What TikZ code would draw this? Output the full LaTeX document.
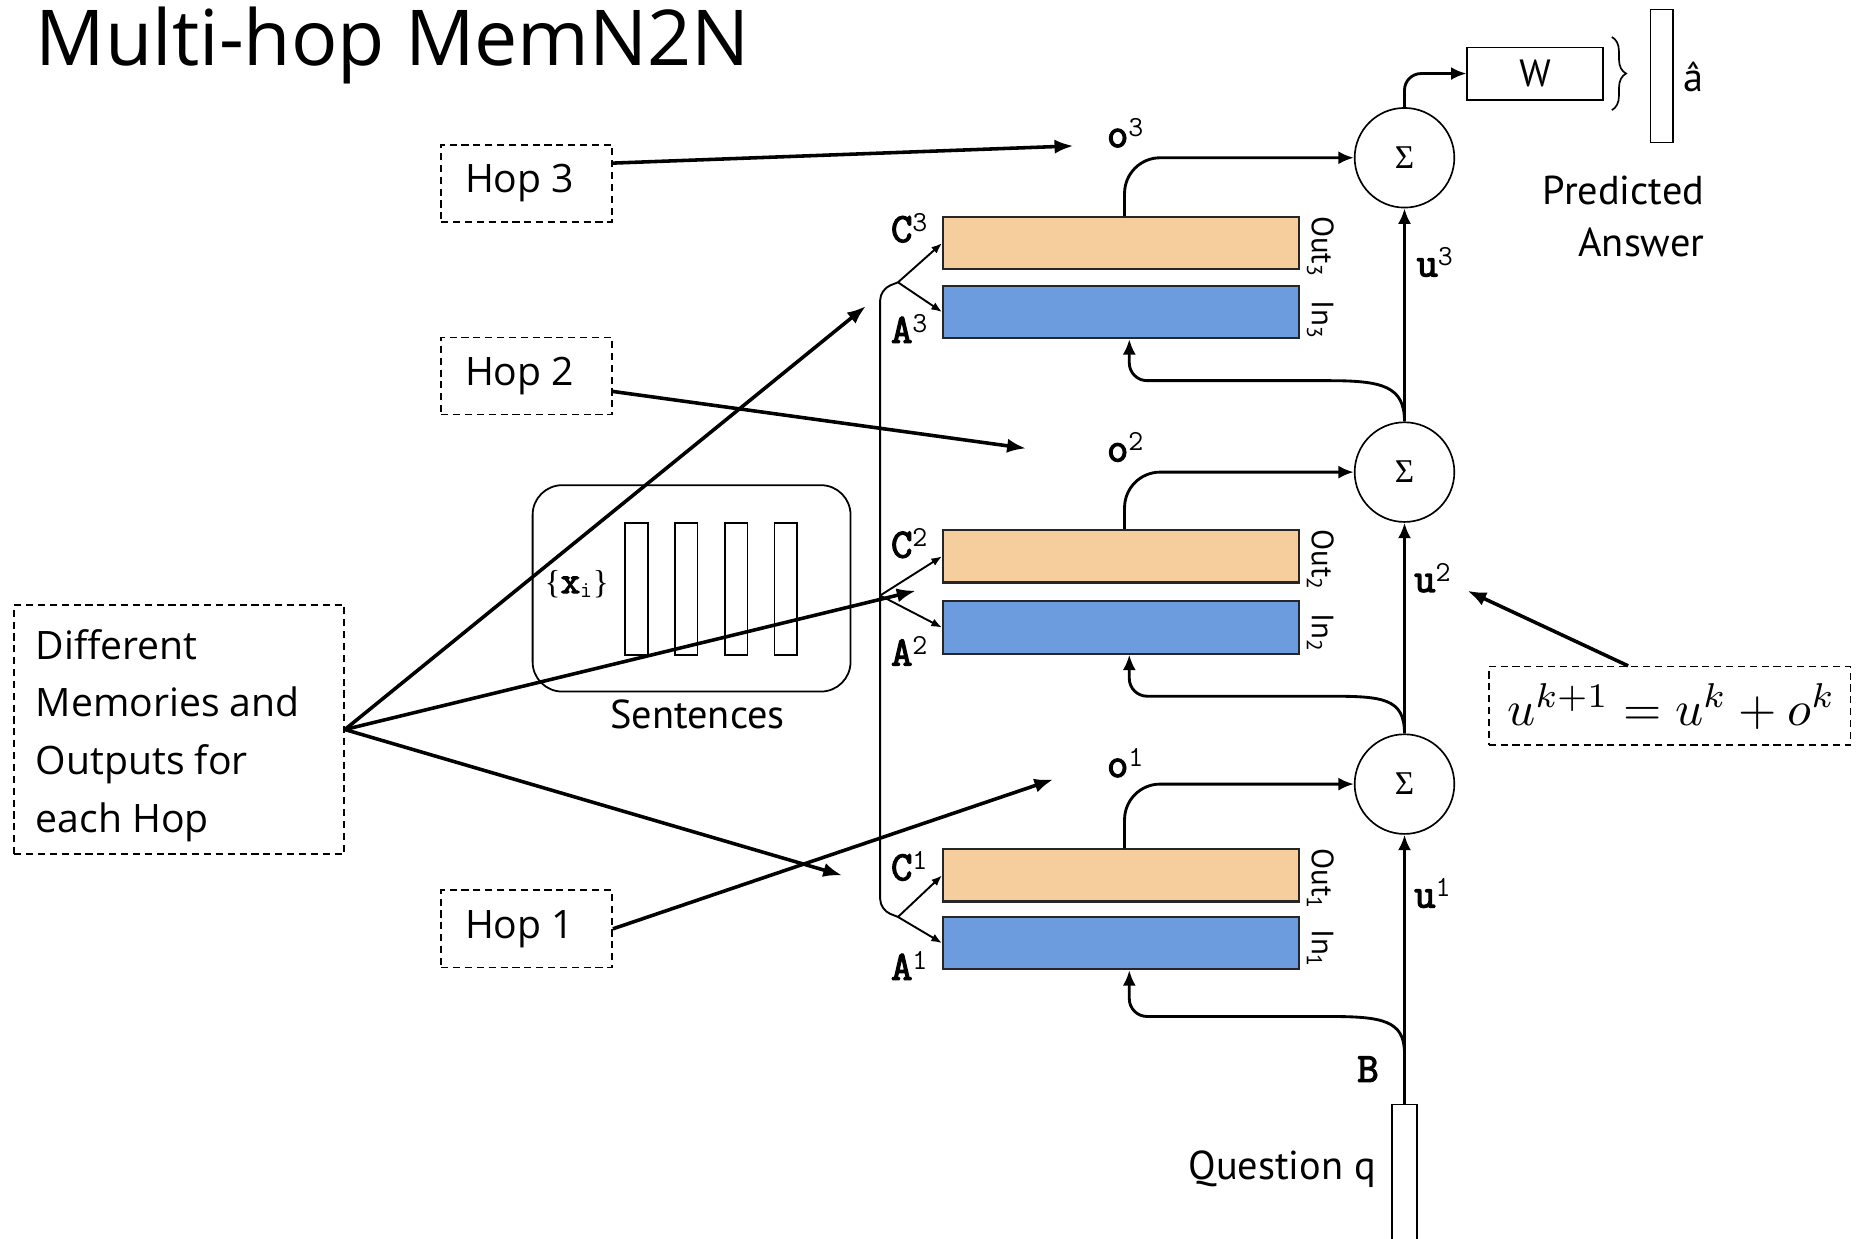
\documentclass[tikz,border=0pt]{standalone}
\usepackage[no-math]{fontspec}
\setmainfont{Open Sans}
\newfontfamily\pts{PT Sans}
\newfontfamily\labmono{Latin Modern Mono}
\newfontfamily\labmonob[FakeBold=3]{Latin Modern Mono}
\newfontfamily\lserif{Liberation Serif}
\usetikzlibrary{arrows.meta,decorations.pathreplacing,calc}
\definecolor{outc}{RGB}{246,206,158}
\definecolor{inc}{RGB}{108,155,222}
\newcommand{\sups}[1]{{\labmono\textsuperscript{#1}}}
\begin{document}
\begin{tikzpicture}[x=1pt,y=-1pt,
  memo/.style={draw=black!85, line width=1.8pt, minimum width=300pt, minimum height=44pt, inner sep=0pt},
  sig/.style={circle, draw, line width=1.4pt, minimum size=84pt, inner sep=0pt, font=\lserif\fontsize{28}{28}\selectfont},
  dbox/.style={draw, line width=1.4pt, dash pattern=on 6pt off 4pt, inner sep=0pt},
  ltxt/.style={font=\fontsize{33}{40}\selectfont, inner sep=0pt},
  lbl/.style={font=\labmonob\fontsize{35}{35}\selectfont, inner sep=0pt, anchor=base west},
  sans/.style={font=\pts\fontsize{34}{40}\selectfont, inner sep=0pt},
  small/.style={font=\pts\fontsize{26}{30}\selectfont, inner sep=0pt, rotate=-90, anchor=base west},
  netarr/.style={line width=2.4pt, -{Latex[length=13pt,width=11pt]}},
  annarr/.style={line width=3pt, -{Latex[length=16pt,width=12pt]}},
  splitarr/.style={line width=1.6pt, -{Latex[length=9pt,width=7pt]}},
  barbox/.style={draw, line width=1.4pt, minimum width=19pt, minimum height=111pt, inner sep=0pt}
]
\useasboundingbox (0,0) rectangle (1568,1044);
% title
\node[anchor=base west, inner sep=0pt, font=\fontsize{65}{65}\selectfont] (title) at (30,55) {Multi-hop MemN2N};

% memory blocks
\node[memo, fill=outc] (C3) at (945,205) {};
\node[memo, fill=inc]  (A3) at (945,263) {};
\node[memo, fill=outc] (C2) at (945,469) {};
\node[memo, fill=inc]  (A2) at (945,529) {};
\node[memo, fill=outc] (C1) at (945,738) {};
\node[memo, fill=inc]  (A1) at (945,795) {};

% sums
\node[sig] (S3) at (1184,133) {Σ};
\node[sig] (S2) at (1184,398) {Σ};
\node[sig] (S1) at (1184,661) {Σ};

% question
\node[draw, line width=1.4pt, minimum width=21pt, minimum height=116pt, inner sep=0pt] (Q) at (1184,989) {};
\coordinate (Bsplit) at (1184,888);
\node[sans, anchor=base east] (Qtxt) at (1160,994) {Question q};
\node[lbl] (Blbl) at (1144,912) {B};

% answer
\node[draw, line width=1.6pt, minimum width=114pt, minimum height=44pt, inner sep=0pt, font=\pts\fontsize{32}{32}\selectfont] (W) at (1294,62) {W};
\node[draw, line width=1.4pt, minimum width=19pt, minimum height=112pt, inner sep=0pt] (ahat) at (1401,64) {};
\draw[decorate, decoration={brace, amplitude=12pt}, line width=1.4pt] ($(W.north east)+(7,-8)$) -- ($(W.south east)+(7,8)$);
\node[sans, anchor=base west] (ahatl) at (1419,77) {â};
\node[sans, anchor=base east] (pred1) at (1437,172) {Predicted};
\node[sans, anchor=base east] (pred2) at (1437,216) {Answer};

% sentences
\node[draw, line width=1.5pt, rounded corners=25pt, minimum width=268pt, minimum height=174pt, inner sep=0pt] (Sent) at (583,496) {};
\node[barbox] (x1) at (536.5,496.5) {};
\node[barbox] (x2) at (578.5,496.5) {};
\node[barbox] (x3) at (620.5,496.5) {};
\node[barbox] (x4) at (662.5,496.5) {};
\node[font=\lserif\fontsize{28}{28}\selectfont, inner sep=0pt, anchor=base west] (xi) at (459,500) {\{{\labmonob\fontsize{32}{32}\selectfont x}\textsubscript{\labmono i}\}};
\node[sans, anchor=base] (senttxt) at (588,614) {Sentences};

% labels
\node[lbl] (lC3) at (751,204) {C\sups{3}};
\node[lbl] (lA3) at (751,289) {A\sups{3}};
\node[lbl] (lC2) at (751,470) {C\sups{2}};
\node[lbl] (lA2) at (751,561) {A\sups{2}};
\node[lbl] (lC1) at (751,742) {C\sups{1}};
\node[lbl] (lA1) at (751,826) {A\sups{1}};
\node[lbl] (lo3) at (933,124) {o\sups{3}};
\node[lbl] (lo2) at (933,389) {o\sups{2}};
\node[lbl] (lo1) at (933,655) {o\sups{1}};
\node[lbl] (lu3) at (1194,233) {u\sups{3}};
\node[lbl] (lu2) at (1192,499) {u\sups{2}};
\node[lbl] (lu1) at (1192,765) {u\sups{1}};
\node[small] (o3t) at (1106,182) {Out\textsubscript{3}};
\node[small] (i3t) at (1106,253) {In\textsubscript{3}};
\node[small] (o2t) at (1106,446) {Out\textsubscript{2}};
\node[small] (i2t) at (1106,517) {In\textsubscript{2}};
\node[small] (o1t) at (1106,715) {Out\textsubscript{1}};
\node[small] (i1t) at (1106,783) {In\textsubscript{1}};

% annotation boxes
\node[dbox, minimum width=144pt, minimum height=65pt] (Hop3) at (444,154.5) {};
\node[ltxt] at ($(Hop3)+(-6,0)$) {Hop 3};
\node[dbox, minimum width=144pt, minimum height=65pt] (Hop2) at (444,317) {};
\node[ltxt] at ($(Hop2)+(-6,0)$) {Hop 2};
\node[dbox, minimum width=144pt, minimum height=65pt] (Hop1) at (444,783) {};
\node[ltxt] at ($(Hop1)+(-6,0)$) {Hop 1};
\node[dbox, minimum width=278pt, minimum height=210pt] (Diff) at (151,615) {};
\node[ltxt, anchor=base west] (d1) at (30,556) {Different};
\node[ltxt, anchor=base west] (d2) at (30,604) {Memories and};
\node[ltxt, anchor=base west] (d3) at (30,653) {Outputs for};
\node[ltxt, anchor=base west] (d4) at (30,702) {each Hop};
\node[dbox, minimum width=305pt, minimum height=66pt] (F) at (1407.5,595) {};
\node[scale=4.15] (Ftxt) at (1409,596) {$u^{k+1}=u^k+o^k$};

% network connectors
\draw[netarr] (Q.north) -- (S1.south);
\draw[netarr] (S1.north) -- (S2.south);
\draw[netarr] (S2.north) -- (S3.south);
\draw[netarr, rounded corners=14pt] (S3.north) |- (W.west);
\draw[netarr, rounded corners=30pt] ($(C3.north)+(3,0)$) |- (S3.west);
\draw[netarr, rounded corners=30pt] ($(C2.north)+(3,0)$) |- (S2.west);
\draw[netarr, rounded corners=30pt] ($(C1.north)+(3,0)$) |- (S1.west);
\draw[netarr] (S2.north) .. controls +(0,-30) and +(45,0) .. ($(A3.south)+(175,35)$) [rounded corners=15pt] -| ($(A3.south)+(7,0)$);
\draw[netarr] (S1.north) .. controls +(0,-30) and +(45,0) .. ($(A2.south)+(175,35)$) [rounded corners=15pt] -| ($(A2.south)+(7,0)$);
\draw[netarr] (Bsplit) .. controls +(0,-28) and +(45,0) .. ($(A1.south)+(175,39)$) [rounded corners=15pt] -| ($(A1.south)+(7,0)$);

% embedding line and splits
\coordinate (sp3) at (757,238);
\coordinate (sp2) at (742,502);
\coordinate (sp1) at (757,773);
\coordinate (lt) at (742,244);
\coordinate (lb) at (742,767);
\draw[line width=1.6pt, rounded corners=9pt] (sp1) -- (lb) -- (lt) -- (sp3);
\draw[splitarr] (sp3) -- (C3.west);
\draw[splitarr] (sp3) -- (A3.west);
\draw[splitarr] (sp2) -- (C2.west);
\draw[splitarr] (sp2) -- (A2.west);
\draw[splitarr] (sp1) -- (C1.west);
\draw[splitarr] (sp1) -- (A1.west);

% annotation arrows
\coordinate (h3e) at (905,123);
\coordinate (h2e) at (865,378);
\coordinate (h1e) at (888,657);
\coordinate (de3) at (730,258);
\coordinate (de2) at (772,498);
\coordinate (de1) at (710,738);
\coordinate (fe) at (1237,498);
\draw[annarr] ($(Hop3.east)+(0,-17)$) -- (h3e);
\draw[annarr] ($(Hop2.east)+(0,13)$) -- (h2e);
\draw[annarr] (Hop1.east) -- (h1e);
\draw[annarr] (Diff.east) -- (de3);
\draw[annarr] (Diff.east) -- (de2);
\draw[annarr] (Diff.east) -- (de1);
\draw[annarr] ($(F.north)+(-35,0)$) -- (fe);
\end{tikzpicture}
\end{document}
